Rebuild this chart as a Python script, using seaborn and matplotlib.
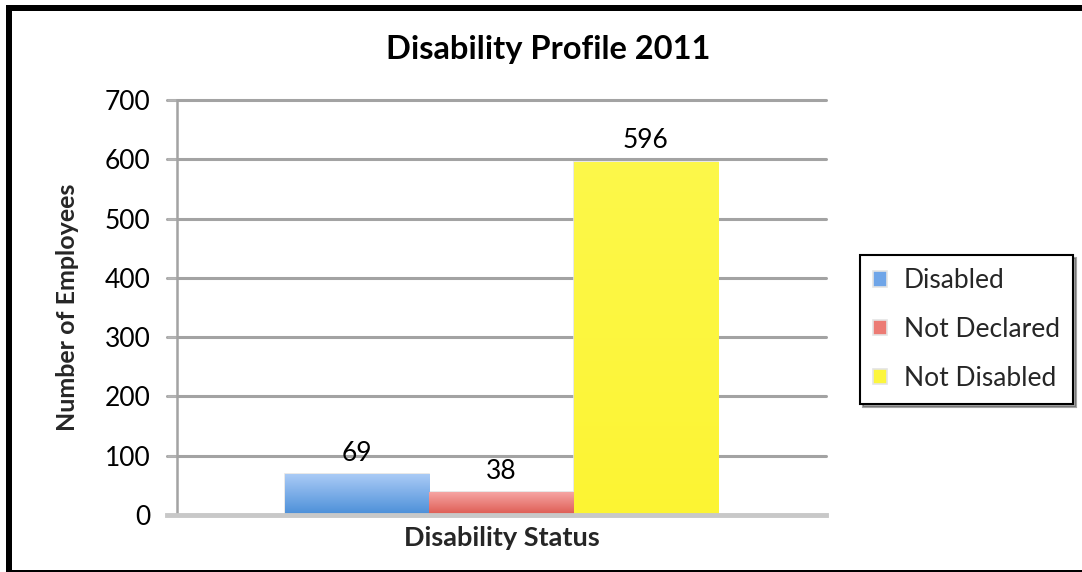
import matplotlib
matplotlib.use("Agg")
import matplotlib.pyplot as plt
import matplotlib.colors as mcolors
from matplotlib.patches import Rectangle
import numpy as np
import pandas as pd
import seaborn as sns

# Chart data
group = ["Disability Status"]
statuses = ["Disabled", "Not Declared", "Not Disabled"]
counts = [69, 38, 596]
y_ticks = [0, 100, 200, 300, 400, 500, 600, 700]

# Fill colours (top and bottom of each bar's gradient)
base_colors = ["#6fa5e8", "#ec7b74", "#fcf63c"]
grad_top = ["#aacbf6", "#f6a5a3", "#fdf84a"]
grad_bottom = ["#4a8ed8", "#dd5950", "#fcf433"]

df = pd.DataFrame({"group": group * len(statuses), "status": statuses, "count": counts})

sns.set_theme(style="white")
plt.rcParams["font.family"] = ["Lato", "DejaVu Sans"]

W, H = 1082, 572
fig = plt.figure(figsize=(W / 100, H / 100), dpi=100)
ax = fig.add_axes([177 / W, 1 - 515 / H, (826 - 177) / W, (515 - 100) / H])

sns.barplot(data=df, x="group", y="count", hue="status", hue_order=statuses,
            palette=base_colors, width=0.667, ax=ax, legend=True,
            edgecolor="#e4e4e4", linewidth=1.2, saturation=1)
ax.set_xlim(-0.5, 0.5)
ax.set_ylim(0, 700)
ax.set_yticks(y_ticks)
ax.set_yticklabels([str(t) for t in y_ticks], fontsize=19, color="black")
ax.set_xticks([])

# Vertical gradient fill clipped to each bar, with its value above it
bars = [p for p in ax.patches if p.get_height() > 0]
for bar, top, bot in zip(bars, grad_top, grad_bottom):
    cmap = mcolors.LinearSegmentedColormap.from_list("g", [bot, top])
    grad = np.linspace(0, 1, 256).reshape(-1, 1)
    x0, w, h = bar.get_x(), bar.get_width(), bar.get_height()
    im = ax.imshow(grad, cmap=cmap, aspect="auto", origin="lower",
                   extent=[x0, x0 + w, 0, h], zorder=bar.get_zorder() + 0.1)
    im.set_clip_path(bar)
    ax.text(x0 + w / 2, h + 14, f"{int(round(h))}", ha="center", va="bottom",
            fontsize=19, color="black", zorder=5)
ax.set_xlim(-0.5, 0.5)
ax.set_ylim(0, 700)

# Grid, spines and ticks
ax.grid(False)
for t in y_ticks[1:]:
    ax.axhline(t, color="#a3a3a3", linewidth=2.2, zorder=0.5, clip_on=False,
               xmin=-10 / 649, xmax=1)
for s in ["top", "right"]:
    ax.spines[s].set_visible(False)
ax.spines["left"].set_color("#a3a3a3")
ax.spines["left"].set_linewidth(1.8)
ax.spines["bottom"].set_color("#c8c8c8")
ax.spines["bottom"].set_linewidth(3.5)
ax.spines["bottom"].set_bounds(-0.5 - 10 / 649, 0.5)
ax.tick_params(axis="y", which="major", left=True, length=7, width=1.8,
               color="#b5b5b5", pad=12)

ax.set_ylabel("Number of Employees", fontsize=18, fontweight="bold", va="center")
ax.yaxis.set_label_coords((68 - 177) / 649, 0.5)
ax.set_xlabel("Disability Status", fontsize=19.5, fontweight="bold", labelpad=8)

fig.text(548 / W, 1 - 50 / H, "Disability Profile 2011", ha="center", va="center",
         fontsize=23.5, fontweight="bold", color="black")

leg = ax.legend(loc="upper left", bbox_to_anchor=(860 / W, 1 - 255 / H),
                bbox_transform=fig.transFigure, borderaxespad=0, frameon=True,
                fancybox=False, shadow=True, fontsize=19, labelspacing=0.9,
                handlelength=0.53, handleheight=0.53, handletextpad=0.64,
                borderpad=0.5)
leg.get_frame().set_edgecolor("black")
leg.get_frame().set_linewidth(1.5)

# Black frame around the chart
fig.add_artist(Rectangle((6 / W, 0), 6 / W, 1 - 5 / H, transform=fig.transFigure,
                         facecolor="black", edgecolor="none"))
fig.add_artist(Rectangle((6 / W, 1 - 11 / H), 1, 6 / H, transform=fig.transFigure,
                         facecolor="black", edgecolor="none"))
fig.add_artist(Rectangle((6 / W, 0), 1, 2 / H, transform=fig.transFigure,
                         facecolor="black", edgecolor="none"))

fig.savefig("out.png", dpi=100)
